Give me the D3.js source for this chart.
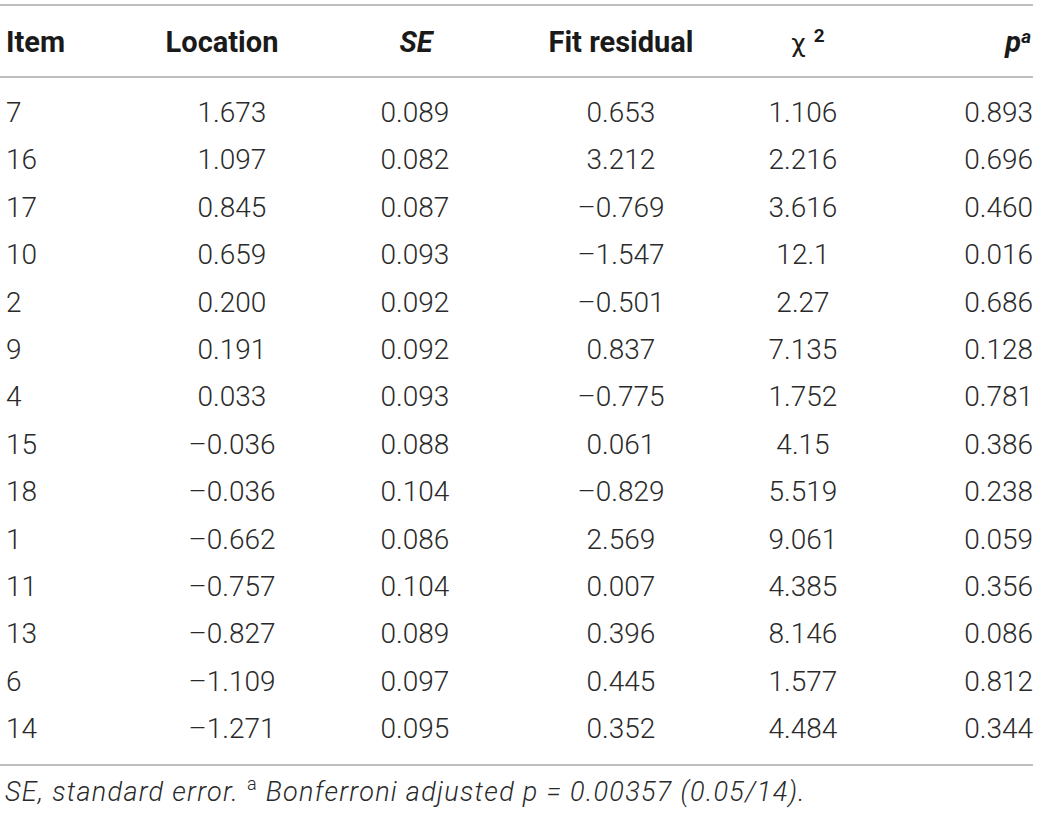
<!DOCTYPE html>
<html>
<head>
<meta charset="utf-8">
<script src="https://cdn.jsdelivr.net/npm/d3@7"></script>
<style>
  body { margin: 0; background: #fff; }
  svg text { font-family: "Roboto", "Liberation Sans", sans-serif; }
</style>
</head>
<body>
<div id="table"></div>
<script>
// table values, top to bottom
const items = ["7", "16", "17", "10", "2", "9", "4", "15", "18", "1", "11", "13", "6", "14"];
const locations = ["1.673", "1.097", "0.845", "0.659", "0.200", "0.191", "0.033", "–0.036", "–0.036", "–0.662", "–0.757", "–0.827", "–1.109", "–1.271"];
const standardErrors = ["0.089", "0.082", "0.087", "0.093", "0.092", "0.092", "0.093", "0.088", "0.104", "0.086", "0.104", "0.089", "0.097", "0.095"];
const fitResiduals = ["0.653", "3.212", "–0.769", "–1.547", "–0.501", "0.837", "–0.775", "0.061", "–0.829", "2.569", "0.007", "0.396", "0.445", "0.352"];
const chiSquares = ["1.106", "2.216", "3.616", "12.1", "2.27", "7.135", "1.752", "4.15", "5.519", "9.061", "4.385", "8.146", "1.577", "4.484"];
const pValues = ["0.893", "0.696", "0.460", "0.016", "0.686", "0.128", "0.781", "0.386", "0.238", "0.059", "0.356", "0.086", "0.812", "0.344"];

const width = 1039, height = 813;
const lineColor = "#a8a8a8";

// column layout: anchor x and alignment
const columns = [
    { key: "item", values: items, x: 6, anchor: "start" },
    { key: "loc", values: locations, x: 232, anchor: "middle" },
    { key: "se", values: standardErrors, x: 415, anchor: "middle" },
    { key: "fit", values: fitResiduals, x: 621, anchor: "middle" },
    { key: "chi", values: chiSquares, x: 803, anchor: "middle" },
    { key: "p", values: pValues, x: 1033, anchor: "end" }
];

const svg = d3.select("#table")
    .append("svg")
    .attr("width", width)
    .attr("height", height);

const y = d3.scalePoint()
    .domain(d3.range(items.length))
    .range([112, 728]);

// rules
[5, 77, 765].forEach(ly => {
    svg.append("line")
        .attr("x1", 0).attr("x2", 1033)
        .attr("y1", ly).attr("y2", ly)
        .attr("stroke", lineColor)
        .attr("stroke-width", 1.6);
});

// header
const header = svg.append("g")
    .attr("font-size", "29px")
    .attr("fill", "#1a1a1a");

const headY = 42;
function headText(x, anchor) {
    return header.append("text")
        .attr("x", x).attr("y", headY)
        .attr("dy", "0.36em")
        .attr("text-anchor", anchor)
        .attr("font-family", "'Liberation Sans', Arial, sans-serif")
        .attr("font-weight", "bold");
}
headText(6, "start").text("Item");
headText(222, "middle").text("Location");
headText(416, "middle").attr("font-style", "italic").text("SE");
headText(621, "middle").text("Fit residual");

const chi = headText(808, "middle");
chi.append("tspan").attr("font-weight", "normal").attr("font-family", "'DejaVu Sans', sans-serif").attr("font-size", "25px").text("χ ");
chi.append("tspan").attr("font-size", "19px").attr("dy", "-0.55em").text("2");

const pHead = headText(1031, "end").attr("font-style", "italic");
pHead.append("tspan").text("p");
pHead.append("tspan").attr("font-size", "19px").attr("dy", "-0.5em").text("a");

// body cells
const body = svg.append("g")
    .attr("font-size", "28px")
    .attr("font-weight", 300)
    .attr("fill", "#2a2a2a");

columns.forEach(col => {
    body.selectAll(`text.${col.key}`)
        .data(col.values)
        .join("text")
        .attr("class", col.key)
        .attr("x", col.x)
        .attr("y", (d, i) => y(i))
        .attr("dy", "0.36em")
        .attr("text-anchor", col.anchor)
        .text(d => d);
});

// footnote
const foot = svg.append("text")
    .attr("x", 5).attr("y", 801)
    .attr("font-size", "27px")
    .attr("font-weight", 300)
    .attr("font-style", "italic")
    .attr("letter-spacing", "1.3px")
    .attr("fill", "#2a2a2a");
foot.append("tspan").text("SE, standard error. ");
foot.append("tspan").attr("font-style", "normal").attr("font-size", "18px").attr("dy", "-0.6em").text("a");
foot.append("tspan").attr("dy", "0.39em").text(" Bonferroni adjusted p = 0.00357 (0.05/14).");
</script>
</body>
</html>
